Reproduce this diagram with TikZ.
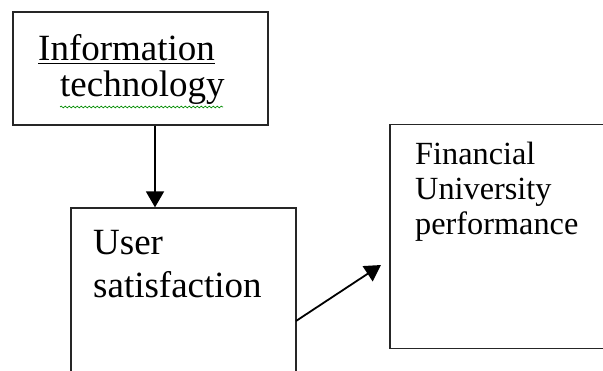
\documentclass[tikz,border=0pt]{standalone}
\usepackage{fontspec}
\setmainfont{Liberation Serif}
\usetikzlibrary{arrows.meta,decorations.pathmorphing}
\begin{document}
\begin{tikzpicture}[x=1pt,y=-1pt,
  frame/.style={draw=black!85,line width=1.3pt,rectangle,inner sep=0pt},
  txt/.style={anchor=base west,inner sep=0pt,font=\fontsize{37}{40}\selectfont},
  txtsmall/.style={anchor=base west,inner sep=0pt,font=\fontsize{32.3}{36}\selectfont},
  link/.style={draw=black,line width=1.8pt,-{Triangle[length=16pt,width=18pt]}}]
\useasboundingbox (0,0) rectangle (603,371);
\clip (0,0) rectangle (603,371);
\fill[white] (0,0) rectangle (603,371);
% boxes
\node[frame,minimum width=255pt,minimum height=113pt] (it) at (140.5,68.5) {};
\node[frame,minimum width=225pt,minimum height=200pt] (us) at (183.5,308) {};
\node[frame,minimum width=230pt,minimum height=224pt] (fp) at (505,236.5) {};
% labels
\node[txt] (l1) at (38,61) {\underline{Information}};
\node[txt] (l2) at (60,97) {technology};
\draw[green!55!black,line width=0.7pt,decorate,decoration={snake,amplitude=0.9pt,segment length=4pt}]
  (l2.base west) ++(0,10) coordinate (w1) -- ++(163,0) coordinate (w2);
\node[txt] (l3) at (93,255) {User};
\node[txt] (l4) at (93,298) {satisfaction};
\node[txtsmall] (l5) at (415,165) {Financial};
\node[txtsmall] (l6) at (415,200) {University};
\node[txtsmall] (l7) at (415,235) {performance};
% connectors
\draw[link] (it.south -| 155,0) -- (us.north -| 155,0);
\coordinate (s2) at (296,321);
\coordinate (e2) at (381,265);
\draw[link] (s2) -- (e2);
\end{tikzpicture}
\end{document}
